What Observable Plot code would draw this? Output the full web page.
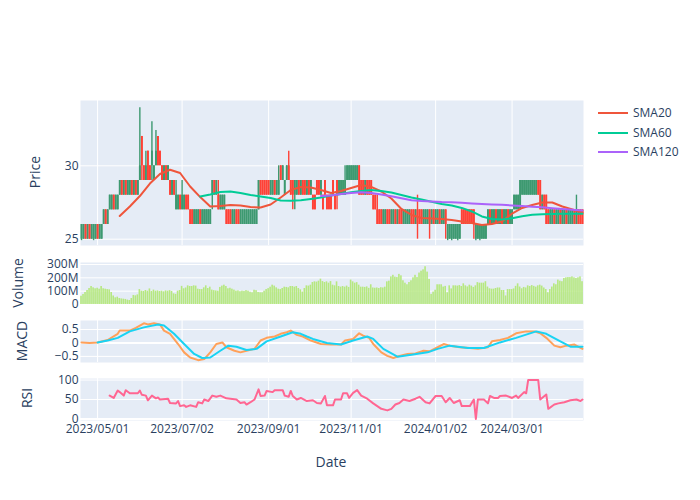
<!DOCTYPE html>
<html><head><meta charset="utf-8">
<script src="https://cdn.jsdelivr.net/npm/d3@7"></script>
<script src="https://cdn.jsdelivr.net/npm/@observablehq/plot@0.6"></script>
<style>
body{margin:0;background:#fff;font-family:'Open Sans',sans-serif;}
#chart{position:relative;width:700px;height:500px;overflow:hidden;}
#chart svg{position:absolute;left:0;top:0;background:transparent !important;}
.t{position:absolute;color:#2a3f5f;font-size:14px;white-space:nowrap;line-height:1;}
.c{transform:translate(-50%,-50%);}
.r{transform:translate(-50%,-50%) rotate(-90deg);}
.lg{position:absolute;left:598px;width:90px;height:16px;font-size:12px;color:#2a3f5f;}
.lg span.sw{position:absolute;left:0;top:7px;width:30px;height:2px;}
.lg span.tx{position:absolute;left:35px;top:0;line-height:16px;}
</style></head><body><div id="chart"></div><script>
// ---- data (trading-day index based) ----
const tickIdx = [8, 50, 93, 134, 176, 214];
const tickLabels = ["2023/05/01","2023/07/02","2023/09/01","2023/11/01","2024/01/02","2024/03/01"];

const opens = [
25,25,26,25,26,25,25,25,26,25, 25,26,27,26,27,27,28,27,27,28,
29,28,29,28,28,29,28,29,28,29, 32,30,29,31,30,30,29,30,32,31,
30,29,30,29,29,28,29,27,27,28, 27,27,28,28,27,27,26,26,26,27,
26,26,26,26,26,28,29,28,28,27, 27,27,27,27,27,26,26,27,27,26,
26,26,26,26,26,26,26,26,27,29, 29,29,29,29,28,28,29,28,28,30,
29,28,29,30,29,29,28,28,29,28, 29,29,28,29,28,28,28,29,29,28,
28,29,28,28,28,29,28,29,28,28, 28,28,29,29,29,29,29,29,30,29,
29,28,29,29,29,28,28,27,27,27, 26,26,27,27,26,26,27,26,27,27,
26,26,26,26,27,27,26,27,27,27, 26,26,26,27,26,27,26,26,27,26,
26,27,25,25,25,25,25,25,25,27, 27,27,27,27,27,27,25,25,25,25,
25,25,26,27,26,26,27,26,26,27, 26,26,27,26,26,27,27,27,27,28,
28,28,28,28,28,28,28,29,29,27, 28,28,27,26,26,27,26,26,27,26,
26,27,26,26,26,27,26,27,27,27];
const closes = [
26,26,25,26,25,26,26,26,25,26, 26,27,26,27,28,28,27,28,28,29,
28,29,28,29,29,28,29,28,29,30, 30,29,30,29,29,31,30,31,30,30,
29,30,29,30,28,29,28,28,28,27, 28,28,27,27,26,26,27,27,27,26,
27,27,27,27,27,29,28,29,27,28, 28,28,26,26,26,27,27,26,26,27,
27,27,27,27,27,27,27,27,29,28, 28,28,28,28,29,29,28,29,29,29,
30,29,30,29,28,28,29,29,28,29, 28,28,29,28,29,27,27,28,28,29,
27,28,27,27,27,28,27,28,29,29, 29,29,30,30,30,30,30,30,28,28,
28,29,28,28,28,27,27,26,26,26, 27,27,26,26,27,27,26,27,26,26,
27,27,27,27,26,26,27,26,26,26, 27,27,27,26,27,26,27,27,26,27,
27,26,26,26,26,26,26,26,26,26, 26,26,26,26,26,26,26,26,26,26,
26,26,27,26,27,27,26,27,27,26, 27,27,26,27,27,28,28,28,29,29,
29,29,29,29,29,29,29,28,27,28, 27,26,26,27,27,26,27,27,26,27,
27,26,27,27,27,26,27,26,26,26];
const highs = [
26,26,26,26,26,26,26,26,26,26, 26,27,27,27,28,28,28,28,28,29,
29,29,29,29,29,29,29,29,29,33.95, 32,30,31,31,30,33,30,32.4,32,31,
30,30,30,30,29,29,29,29,28,28, 29,28,28,28,27,27,27,27,27,27,
27,27,27,27,27,29,29,29,29,28, 28,28,27,27,27,27,27,27,27,27,
27,27,27,27,27,27,27,27,29,29, 29,29,29,29,29,29,29,29,30,30,
30,29,30,31,29,29,29,29,29,29, 29,29,29,29,29,28,28,29,29,29,
28,29,28,28,28,29,28,29,29,29, 29,30,30,30,30,30,30,30,30,29,
29,29,29,29,29,28,28,28,27,27, 27,27,27,27,27,27,27,27,27,27,
27,27,27,27,27,27,27,28,27,27, 27,27,27,27,27,27,27,27,27,27,
27,27,26,26,26,26,26,26,26,27, 27,27,27,27,27,27,26,26,26,26,
26,26,27,27,27,27,27,27,27,27, 27,27,27,27,27,28,28,28,29,29,
29,29,29,29,29,29,29,29,29,28, 28,28,27,27,27,27,27,27,27,27,
27,27,27,27,27,27,28,27,27,27];
const lows = [
24.9,25,25,25,25,25,24.9,25,25,25, 25,26,26,26,27,27,27,27,27,28,
28,28,28,28,28,28,28,28,28,29, 29,29,29,29,29,29,29,30,30,30,
29,29,29,29,28,28,28,27,27,27, 27,27,27,27,26,26,26,26,26,26,
26,26,26,26,26,27,28,28,27,27, 27,27,26,26,26,26,26,26,26,26,
26,26,26,26,26,26,26,26,27,28, 28,28,28,28,28,28,28,28,28,29,
29,28,29,29,28,27,27,28,28,28, 28,28,28,28,28,27,27,28,28,28,
27,28,27,27,27,28,27,27,28,28, 28,28,29,29,29,29,29,29,28,28,
28,28,28,28,28,27,27,26,26,26, 26,26,26,26,26,26,26,26,26,26,
26,26,26,26,26,26,26,25,26,26, 26,26,26,25,26,26,26,26,26,26,
26,25,24.9,25,24.9,25,25,24.9,25,26, 26,26,26,26,26,25,24.9,25,24.9,25,
25,25,26,26,26,26,26,26,26,26, 26,26,26,26,26,27,27,27,27,28,
28,28,28,28,28,28,28,28,27,27, 27,26,26,26,26,26,26,26,26,26,
26,26,26,26,26,26,26,26,26,26];

// volume in millions
const volumes = [
62,75,90,105,120,135,125,118,122,115, 135,118,115,112,110,90,64,50,55,45,
42,40,38,33,30,45,68,65,72,112, 100,98,105,100,117,98,108,100,102,98,
100,95,102,100,104,98,80,76,100,105, 136,118,124,140,135,135,140,138,115,112,
112,125,140,120,130,108,104,102,100,128, 138,145,135,118,122,115,108,100,102,96,
100,98,104,100,92,88,107,104,90,88, 88,100,112,119,130,145,138,125,115,112,
120,130,128,125,135,135,130,135,120,110, 93,120,140,138,145,165,170,168,175,190,
172,165,170,160,172,145,140,170,135,130, 135,130,138,128,183,170,160,164,145,130,
130,128,132,121,148,124,122,124,120,126, 124,130,170,175,207,219,205,202,226,215,
178,160,148,165,178,200,219,202,236,250, 260,283,243,188,76,93,107,148,148,148,
131,136,88,140,117,140,140,138,142,135, 155,140,132,145,138,128,140,164,160,160,
160,171,131,118,115,115,120,124,124,105, 105,64,112,112,112,117,136,155,131,118,
128,124,140,135,142,136,130,140,145,138, 124,112,88,112,131,155,148,183,175,171,
195,200,202,202,207,200,195,200,207,171];

// moving averages, read every 5 trading days
const smaDay = [19,24,29,34,39,44,49,54,59,64,69,74,79,84,89,94,99,104,109,114,119,124,129,134,139,144,149,154,159,164,169,174,179,184,189,194,199,204,209,214,219,224,229,234,239,244,249];
const sma20 = [26.58,27.23,27.94,28.79,29.44,29.73,29.51,28.59,27.87,27.23,27.26,27.33,27.3,27.19,27.16,27.36,27.84,28.35,28.56,28.52,28.35,28.15,28.28,28.49,28.69,28.56,28.25,27.77,27.06,26.65,26.44,26.41,26.38,26.31,26.21,26.1,25.97,26.04,26.21,26.75,27.13,27.33,27.5,27.5,27.23,27.02,26.82];
const sma60 = [null,null,null,null,null,null,null,null,27.91,28.05,28.22,28.25,28.15,28.01,27.91,27.81,27.64,27.62,27.65,27.74,27.84,27.98,28.08,28.2,28.28,28.35,28.28,28.18,28.01,27.84,27.7,27.55,27.4,27.3,27.13,26.89,26.55,26.38,26.34,26.43,26.57,26.66,26.7,26.72,26.73,26.73,26.73];
const sma120 = [null,null,null,null,null,null,null,null,null,null,null,null,null,null,null,null,null,null,null,null,27.94,27.98,28.08,28.14,28.19,28.15,28.05,27.92,27.79,27.65,27.6,27.57,27.53,27.51,27.48,27.44,27.4,27.37,27.34,27.3,27.26,27.21,27.17,27.11,27.06,27.01,26.96];

const macdDay = [0,4,8,13,18,19,24,27,31,33,36,39,41,44,48,51,54,58,61,64,67,70,72,76,79,82,86,89,92,96,99,102,104,107,110,114,119,124,129,131,135,138,140,143,145,149,152,155,158,162,166,170,173,177,180,183,188,193,197,202,204,208,212,216,221,225,228,231,235,238,241,245,249];
const macdVal = [0.02,0,0.02,0.11,0.34,0.46,0.46,0.56,0.73,0.69,0.73,0.69,0.46,0.34,-0.04,-0.35,-0.54,-0.64,-0.6,-0.35,-0.04,0.02,-0.16,-0.29,-0.35,-0.29,-0.22,0.09,0.19,0.24,0.34,0.4,0.46,0.3,0.24,0.09,-0.04,-0.06,-0.06,0.09,0.15,0.36,0.27,0.19,-0.04,-0.35,-0.48,-0.56,-0.48,-0.41,-0.39,-0.29,-0.31,-0.16,-0.04,-0.1,-0.16,-0.19,-0.22,-0.16,0.06,0.11,0.19,0.36,0.43,0.43,0.36,0.19,-0.1,-0.16,-0.1,-0.06,-0.22];
const sigDay = [8,13,18,24,31,38,41,46,51,56,60,64,69,73,77,82,87,92,99,105,109,112,115,122,129,135,142,145,150,157,164,172,177,183,192,200,208,216,226,231,238,243,249];
const sigVal = [0.02,0.09,0.19,0.43,0.58,0.69,0.65,0.34,-0.04,-0.41,-0.56,-0.54,-0.29,-0.1,-0.14,-0.26,-0.22,0.06,0.24,0.4,0.34,0.24,0.15,0,-0.06,0.09,0.24,0.15,-0.22,-0.51,-0.44,-0.35,-0.22,-0.1,-0.19,-0.19,0.02,0.19,0.43,0.34,0.06,-0.14,-0.14];

const rsiDay = [14,16,18,19,21,22,24,28,29,30,32,33,35,37,38,39,43,44,47,48,49,51,52,54,57,58,60,61,63,65,67,69,72,77,79,81,82,84,86,88,89,91,92,95,96,100,101,103,104,105,107,109,112,115,117,119,121,122,125,126,129,130,132,133,135,137,139,142,145,149,152,154,156,158,160,163,166,168,171,173,176,179,181,183,185,188,189,193,195,196,197,200,202,203,205,207,208,211,214,216,217,220,221,222,227,228,231,232,235,237,240,243,246,248,249];
const rsiVal = [60,54,73,69,60,74,66,66,73,62,60,48,60,53,55,50,52,41,40,46,33,35,31,35,31,43,40,50,46,60,57,60,53,50,41,43,37,43,50,76,59,60,72,69,74,74,60,57,72,59,50,54,46,48,41,40,59,35,35,50,50,66,66,54,67,74,60,52,40,26,22,26,37,41,50,46,52,57,43,40,59,59,43,54,41,48,33,33,50,0,50,50,40,59,54,54,59,60,54,60,54,69,66,100,100,50,63,26,37,40,43,48,50,46,50];

const seriesNames = ["SMA20","SMA60","SMA120"];
const seriesColors = ["#EF553B","#00CC96","#AB63FA"];

// ---- build ----
const N = opens.length;
const candles = opens.map((o,i)=>({i, o, c: closes[i], h: highs[i], l: lows[i]}));
const up = candles.filter(d=>d.c>=d.o), down = candles.filter(d=>d.c<d.o);
const vol = volumes.map((v,i)=>({i, v}));
const pts = (days, vals) => days.map((d,k)=>({i:d, v:vals[k]})).filter(d=>d.v!=null);
const inc = "#3D9970", dec = "#FF4136", bg = "#E5ECF6";
const xdom = [-0.5, N-0.5];
const style = {fontFamily:"'Open Sans', sans-serif", fontSize:"12px", color:"#2a3f5f", background:"transparent", overflow:"visible"};
const base = {width:700, height:500, marginLeft:80, marginRight:117, style};
const grid = (vals, w=1) => Plot.ruleY(vals, {stroke:"white", strokeWidth:w});
const gridV = () => Plot.ruleX(tickIdx, {stroke:"white", strokeWidth:1});
const yax = (ticks, fmt) => ({ticks, tickSize:0, tickPadding:2, label:null, tickFormat: fmt});

const chart = document.getElementById("chart");

const price = Plot.plot({...base, marginTop:100, marginBottom:255,
  x:{domain:xdom, axis:null},
  y:{domain:[24.57,34.45], ...yax([25,30], d=>String(d))},
  marks:[
    Plot.frame({fill:bg, stroke:"none"}),
    gridV(), grid([25,30]),
    Plot.ruleX(up, {x:"i", y1:"l", y2:"h", stroke:inc, strokeWidth:1.4}),
    Plot.ruleX(down, {x:"i", y1:"l", y2:"h", stroke:dec, strokeWidth:1.4}),
    Plot.ruleX(up, {x:"i", y1:"o", y2:"c", stroke:inc, strokeWidth:1.9}),
    Plot.ruleX(down, {x:"i", y1:"o", y2:"c", stroke:dec, strokeWidth:1.9}),
    Plot.line(pts(smaDay, sma20), {x:"i", y:"v", stroke:seriesColors[0], strokeWidth:2}),
    Plot.line(pts(smaDay, sma60), {x:"i", y:"v", stroke:seriesColors[1], strokeWidth:2}),
    Plot.line(pts(smaDay, sma120), {x:"i", y:"v", stroke:seriesColors[2], strokeWidth:2})
  ]});
chart.appendChild(price);

const volume = Plot.plot({...base, marginTop:262, marginBottom:196,
  x:{domain:xdom, axis:null},
  y:{domain:[0,315], ...yax([0,100,200,300], d=> d===0 ? "0" : d+"M")},
  marks:[
    Plot.frame({fill:bg, stroke:"none"}),
    grid([100,200,300]), grid([0],2),
    Plot.rect(vol, {x1:d=>d.i-0.4, x2:d=>d.i+0.4, y1:0, y2:"v", fill:"#B6E880"})
  ]});
chart.appendChild(volume);

const macd = Plot.plot({...base, marginTop:320, marginBottom:138,
  x:{domain:xdom, axis:null},
  y:{domain:[-0.727,0.835], ...yax([-0.5,0,0.5], d=> d===0 ? "0" : (d<0?"\u2212":"")+Math.abs(d))},
  marks:[
    Plot.frame({fill:bg, stroke:"none"}),
    gridV(), grid([-0.5,0.5]), grid([0],2),
    Plot.line(pts(macdDay, macdVal), {x:"i", y:"v", stroke:"#FFA15A", strokeWidth:2}),
    Plot.line(pts(sigDay, sigVal), {x:"i", y:"v", stroke:"#19D3F3", strokeWidth:2})
  ]});
chart.appendChild(macd);

const rsi = Plot.plot({...base, marginTop:378, marginBottom:80,
  x:{domain:xdom, ticks:tickIdx, tickSize:0, tickPadding:4, label:null, tickFormat: i => tickLabels[tickIdx.indexOf(i)]},
  y:{domain:[-4,104], ...yax([0,50,100], d=>String(d))},
  marks:[
    Plot.frame({fill:bg, stroke:"none"}),
    gridV(), grid([50,100]), grid([0],2),
    Plot.line(pts(rsiDay, rsiVal), {x:"i", y:"v", stroke:"#FF6692", strokeWidth:2})
  ]});
chart.appendChild(rsi);

// axis titles
const addText = (txt, x, y, cls) => { const d = document.createElement("div"); d.className = "t " + cls; d.style.left = x+"px"; d.style.top = y+"px"; d.textContent = txt; chart.appendChild(d); };
addText("Price", 35, 172, "r");
addText("Volume", 18, 283, "r");
addText("MACD", 22, 341, "r");
addText("RSI", 27, 398, "r");
addText("Date", 331, 462, "c");

// legend
seriesNames.forEach((n,k)=>{
  const d = document.createElement("div"); d.className = "lg";
  d.style.top = (105 + k*19.5) + "px";
  d.innerHTML = `<span class="sw" style="background:${seriesColors[k]}"></span><span class="tx">${n}</span>`;
  chart.appendChild(d);
});
</script></body></html>
